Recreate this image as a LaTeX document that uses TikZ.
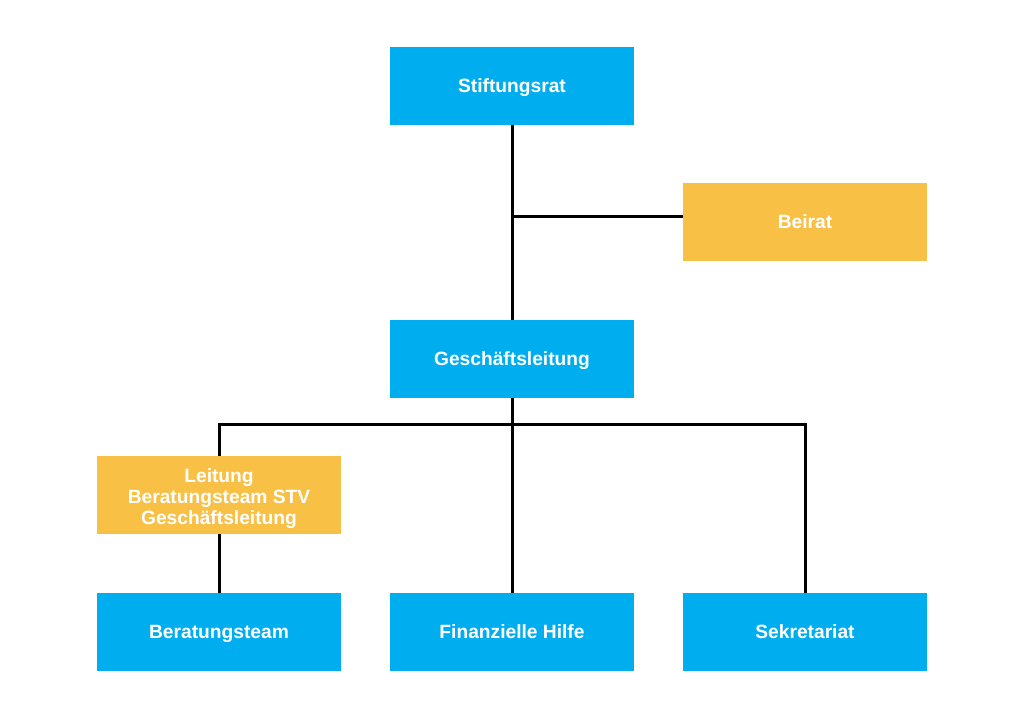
\documentclass[tikz,border=0pt]{standalone}
\usepackage{fontspec}
\setmainfont{Liberation Sans}
\definecolor{boxblue}{HTML}{00AEEF}
\definecolor{boxorange}{HTML}{F8C146}
\begin{document}
\begin{tikzpicture}[x=1pt,y=-1pt,
  orgbox/.style={minimum width=244pt,minimum height=78pt,inner sep=0pt},
  boxtext/.style={text=white,inner sep=0pt,
    font=\fontsize{19.2}{21}\selectfont\bfseries,align=center},
  onetext/.style={boxtext,text height=14pt,text depth=4pt,yshift=-1pt},
  multitext/.style={boxtext,yshift=-3.5pt},
  bluebox/.style={orgbox,fill=boxblue},
  orangebox/.style={orgbox,fill=boxorange},
  conn/.style={line width=3pt,black}]
\useasboundingbox[fill=white] (0,0) rectangle (1024,717);
\node[bluebox,label={[onetext]center:Stiftungsrat}] (stift) at (512,86) {};
\node[orangebox,label={[onetext]center:Beirat}] (beirat) at (805,222) {};
\node[bluebox,label={[onetext]center:Geschäftsleitung}] (gl) at (512,359) {};
\node[orangebox,label={[multitext]center:Leitung\\Beratungsteam STV\\Geschäftsleitung}] (leit) at (219,495) {};
\node[bluebox,label={[onetext]center:Beratungsteam}] (bt) at (219,632) {};
\node[bluebox,label={[onetext]center:Finanzielle Hilfe}] (fh) at (512,632) {};
\node[bluebox,label={[onetext]center:Sekretariat}] (sek) at (805,632) {};
\coordinate (jb) at (512,216);
\coordinate (jm) at (512,424);
\draw[conn] (stift.south) -- (gl.north);
\draw[conn] (jb) -- (jb -| beirat.west);
\draw[conn] (gl.south) -- (fh.north);
\draw[conn] (leit.north) |- (jm) -| (sek.north);
\draw[conn] (leit.south) -- (bt.north);
\end{tikzpicture}
\end{document}
